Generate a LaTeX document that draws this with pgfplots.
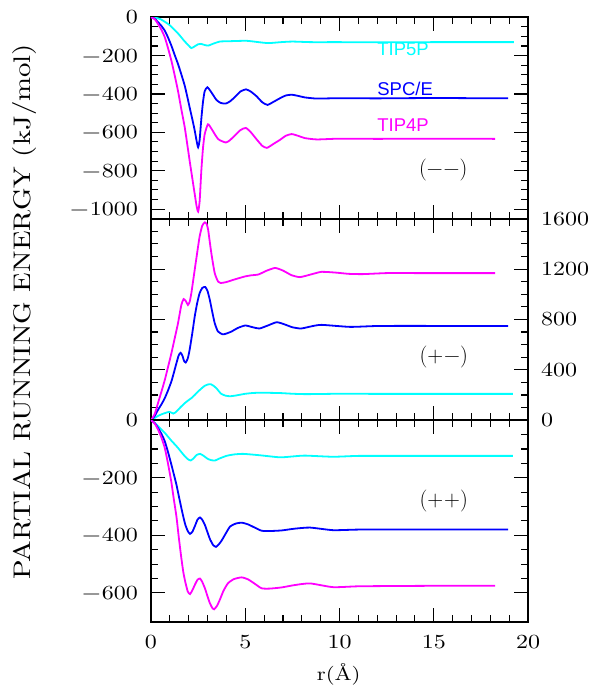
\documentclass[border=0pt]{standalone}
\usepackage{pgfplots}
\pgfplotsset{compat=1.18}
\usepackage{fontspec}
\newfontfamily\tickfont{lmroman10-regular}[Extension=.otf,FakeStretch=1.2]
\newfontfamily\lsans{Liberation Sans}
\definecolor{ccyan}{RGB}{0,255,255}
\definecolor{cblue}{RGB}{0,0,255}
\definecolor{cmag}{RGB}{255,0,255}
\pgfplotsset{
  panel/.style={
    scale only axis, width=377pt, height=201.5pt,
    xmin=0, xmax=20, xtick={0,5,10,15,20}, minor x tick num=4,
    axis line style={line width=2pt},
    every tick/.append style={black, line width=1.1pt},
    every minor tick/.append style={black, line width=1.1pt},
    major tick length=14pt, minor tick length=7pt,
    tick align=inside,
    xtick pos=both, ytick pos=both,
    tick label style={font=\tickfont\fontsize{20}{20}\selectfont},
    yticklabel style={inner xsep=13pt},
    xticklabel style={inner ysep=13pt},
    minor y tick num=3,
  },
  curve/.style={line width=1.8pt, smooth, tension=0.35, no marks},
}
\begin{document}
\begin{tikzpicture}
\path[use as bounding box] (-151pt,-63.3pt) rectangle (444pt,621.7pt);

% ---------------- top panel (--)
\begin{axis}[panel, at={(0pt,403pt)}, anchor=south west,
  ymin=-1050, ymax=0,
  ytick={-1000,-800,-600,-400,-200,0},
  yticklabels={−\kern1pt1000,−\kern1pt800,−\kern1pt600,−\kern1pt400,−\kern1pt200,0},
  xticklabels={}]
\addplot[curve, ccyan] coordinates {(0,0) (0.25,-3) (0.5,-10) (0.75,-25) (1.0,-42) (1.25,-66) (1.5,-92) (1.75,-122) (2.0,-148) (2.14,-161) (2.3,-153) (2.5,-141) (2.65,-139) (2.85,-145) (3.04,-148) (3.25,-140) (3.65,-127) (4.2,-125) (5.07,-123) (5.7,-130) (6.23,-135) (6.9,-130) (7.5,-127) (8.5,-130) (10,-130) (12,-131) (15,-130) (17,-130) (19.25,-130)};
\addplot[curve, cblue] coordinates {(0,0) (0.2,-8) (0.37,-26) (0.55,-45) (0.73,-70) (0.9,-105) (1.08,-148) (1.25,-195) (1.43,-243) (1.6,-295) (1.79,-357) (1.95,-425) (2.05,-470) (2.2,-535) (2.32,-591) (2.42,-645) (2.5,-678) (2.58,-640) (2.67,-530) (2.76,-440) (2.85,-385) (2.99,-365) (3.2,-391) (3.47,-431) (3.7,-447) (3.97,-450) (4.2,-438) (4.44,-417) (4.75,-387) (5.04,-376) (5.3,-388) (5.6,-412) (5.9,-443) (6.18,-457) (6.5,-441) (6.83,-423) (7.15,-408) (7.46,-404) (7.8,-410) (8.16,-418) (8.8,-424) (10,-422) (12,-423) (15,-421) (17,-422) (18.94,-422)};
\addplot[curve, cmag] coordinates {(0,0) (0.2,-10) (0.37,-35) (0.55,-65) (0.73,-104) (0.9,-160) (1.08,-226) (1.25,-300) (1.43,-383) (1.6,-475) (1.79,-574) (1.95,-680) (2.05,-748) (2.2,-845) (2.32,-922) (2.42,-985) (2.5,-1013) (2.58,-960) (2.67,-800) (2.76,-680) (2.85,-609) (3.02,-558) (3.2,-580) (3.56,-635) (3.97,-653) (4.2,-640) (4.44,-617) (4.75,-588) (5.03,-577) (5.3,-600) (5.59,-635) (5.9,-670) (6.15,-681) (6.5,-660) (6.83,-640) (7.15,-618) (7.46,-609) (7.8,-618) (8.16,-630) (8.8,-637) (10,-633) (12,-634) (15,-633) (18.25,-634)};
\node[anchor=west, inner sep=0pt, text=ccyan, font=\lsans\fontsize{18.5}{18.5}\selectfont] at (axis cs:12.0,-168) {TIP5P};
\node[anchor=west, inner sep=0pt, text=cblue, font=\lsans\fontsize{18.5}{18.5}\selectfont] at (axis cs:12.0,-376) {SPC/E};
\node[anchor=west, inner sep=0pt, text=cmag, font=\lsans\fontsize{18.5}{18.5}\selectfont] at (axis cs:12.0,-561) {TIP4P};
\node[font=\fontsize{22}{22}\selectfont] at (axis cs:15.5,-798) {(−\kern1pt−)};
\end{axis}

% ---------------- middle panel (+-)
\begin{axis}[panel, at={(0pt,201.5pt)}, anchor=south west,
  ymin=0, ymax=1600,
  ytick={0,400,800,1200,1600},
  yticklabels={0,400,800,1200,1600},
  yticklabel pos=right,
  xticklabels={}]
\addplot[curve, ccyan] coordinates {(0,0) (0.2,18) (0.37,34) (0.55,46) (0.73,56) (0.95,66) (1.05,62) (1.18,53) (1.3,62) (1.43,82) (1.6,108) (1.79,135) (2.0,160) (2.14,175) (2.32,200) (2.5,228) (2.7,255) (2.85,273) (3.0,283) (3.17,286) (3.3,275) (3.47,254) (3.6,230) (3.73,209) (3.95,195) (4.19,190) (4.5,196) (4.97,209) (5.4,216) (5.8,218) (6.4,217) (6.92,215) (7.5,210) (8.16,207) (9,208) (10,210) (12,209) (15,209) (19.2,209)};
\addplot[curve, cblue] coordinates {(0,0) (0.2,35) (0.37,82) (0.55,125) (0.73,175) (0.9,235) (1.08,307) (1.2,370) (1.35,453) (1.47,515) (1.57,535) (1.66,515) (1.75,472) (1.84,458) (1.95,490) (2.05,559) (2.2,700) (2.32,824) (2.45,930) (2.58,1009) (2.72,1050) (2.88,1058) (3.0,1025) (3.12,956) (3.25,860) (3.38,771) (3.55,705) (3.8,682) (4.0,688) (4.27,704) (4.6,732) (5.0,752) (5.4,738) (5.75,728) (6.2,752) (6.67,778) (7.1,760) (7.5,738) (7.96,728) (8.5,745) (9.05,757) (10.56,741) (12,748) (14,749) (16,748) (18.94,748)};
\addplot[curve, cmag] coordinates {(0,0) (0.2,50) (0.37,135) (0.55,225) (0.73,318) (0.9,420) (1.08,530) (1.25,645) (1.43,768) (1.61,915) (1.73,962) (1.85,945) (1.96,915) (2.05,940) (2.14,1008) (2.32,1195) (2.45,1330) (2.58,1459) (2.72,1545) (2.86,1571) (2.95,1558) (3.03,1513) (3.2,1327) (3.38,1168) (3.56,1100) (3.7,1089) (4.0,1097) (4.27,1110) (4.6,1125) (5.0,1142) (5.3,1150) (5.7,1157) (6.1,1185) (6.58,1209) (7.0,1188) (7.45,1152) (7.9,1136) (8.5,1158) (9.05,1178) (9.8,1172) (10.5,1162) (11.25,1160) (12.5,1168) (14,1168) (16,1168) (18.25,1168)};
\node[font=\fontsize{22}{22}\selectfont] at (axis cs:15.53,498) {(+\kern1pt−)};
\end{axis}

% ---------------- bottom panel (++)
\begin{axis}[panel, at={(0pt,0pt)}, anchor=south west,
  ymin=-700, ymax=0,
  ytick={-600,-400,-200,0},
  yticklabels={−\kern1pt600,−\kern1pt400,−\kern1pt200,0},
  xticklabels={0,5,10,15,20}]
\addplot[curve, ccyan] coordinates {(0,0) (0.2,-10) (0.37,-21) (0.55,-32) (0.73,-44) (0.9,-57) (1.08,-71) (1.25,-83) (1.43,-96) (1.6,-110) (1.79,-125) (1.95,-135) (2.1,-140) (2.25,-133) (2.42,-121) (2.6,-117) (2.8,-124) (3.0,-134) (3.2,-139) (3.4,-140) (3.6,-134) (4.0,-124) (4.4,-119) (4.9,-117) (5.8,-122) (6.84,-129) (7.5,-126) (8.16,-123) (9.66,-127) (11,-124) (13,-124) (16,-124) (19.2,-124)};
\addplot[curve, cblue] coordinates {(0,0) (0.2,-10) (0.37,-27) (0.55,-47) (0.73,-73) (0.9,-110) (1.08,-154) (1.2,-185) (1.35,-224) (1.48,-265) (1.61,-305) (1.72,-337) (1.82,-363) (1.95,-385) (2.07,-395) (2.2,-387) (2.34,-366) (2.47,-345) (2.6,-338) (2.72,-346) (2.86,-364) (3.0,-390) (3.14,-415) (3.3,-434) (3.45,-440) (3.6,-431) (3.75,-418) (3.97,-393) (4.2,-369) (4.5,-359) (4.81,-356) (5.15,-362) (5.5,-373) (5.87,-384) (6.3,-385) (6.92,-383) (7.6,-377) (8.43,-373) (9.66,-382) (11,-380) (13,-380) (16,-380) (18.94,-380)};
\addplot[curve, cmag] coordinates {(0,0) (0.2,-12) (0.37,-32) (0.55,-60) (0.73,-96) (0.9,-150) (1.08,-215) (1.2,-270) (1.35,-335) (1.48,-410) (1.61,-479) (1.72,-530) (1.83,-565) (1.95,-595) (2.07,-604) (2.2,-590) (2.34,-570) (2.47,-554) (2.6,-550) (2.72,-562) (2.86,-584) (3.0,-612) (3.12,-635) (3.25,-652) (3.35,-657) (3.5,-645) (3.65,-624) (3.85,-592) (4.09,-566) (4.4,-552) (4.81,-546) (5.15,-553) (5.5,-568) (5.87,-584) (6.3,-585) (6.92,-581) (7.6,-573) (8.43,-567) (9.66,-580) (11,-577) (13,-576) (16,-575) (18.25,-575)};
\node[font=\fontsize{22}{22}\selectfont] at (axis cs:15.53,-282) {(+\kern1pt+)};
\end{axis}

\node[rotate=90, font=\tickfont\fontsize{24}{24}\selectfont] at (-126pt,310pt) {PARTIAL RUNNING ENERGY (kJ/mol)};
\node[font=\tickfont\fontsize{19}{19}\selectfont] at (187.7pt,-52.3pt) {r(Å)};
\end{tikzpicture}
\end{document}
